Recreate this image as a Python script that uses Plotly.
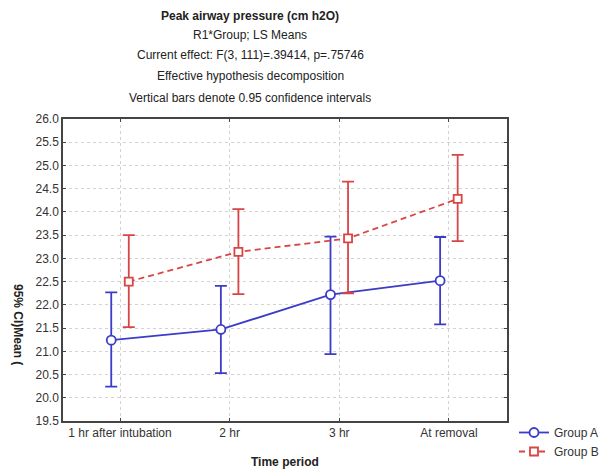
import plotly.graph_objects as go

categories = ["1 hr after intubation", "2 hr", "3 hr", "At removal"]
group_a_mean = [21.24, 21.47, 22.22, 22.52]
group_a_upper = [22.27, 22.41, 23.47, 23.46]
group_a_lower = [20.24, 20.53, 20.94, 21.58]
group_b_mean = [22.50, 23.14, 23.43, 24.28]
group_b_upper = [23.50, 24.06, 24.65, 25.23]
group_b_lower = [21.52, 22.23, 22.25, 23.37]
y_ticks = [19.5 + 0.5 * i for i in range(14)]

title_lines = [
    "<b>Peak airway pressure (cm h2O)</b>",
    "R1*Group; LS Means",
    "Current effect: F(3, 111)=.39414, p=.75746",
    "Effective hypothesis decomposition",
    "Vertical bars denote 0.95 confidence intervals",
]

BLUE = "#3c3cc8"
RED = "#d94545"
FONT = "Liberation Sans, Arial, sans-serif"

offset = 0.08
xa = [i - offset for i in range(len(categories))]
xb = [i + offset for i in range(len(categories))]

fig = go.Figure()
fig.add_trace(go.Scatter(
    x=xa, y=group_a_mean, name="Group A", mode="lines+markers",
    line=dict(color=BLUE, width=1.8),
    marker=dict(symbol="circle", size=9, color="white", line=dict(color=BLUE, width=1.8)),
    error_y=dict(type="data", symmetric=False,
                 array=[u - m for u, m in zip(group_a_upper, group_a_mean)],
                 arrayminus=[m - l for m, l in zip(group_a_mean, group_a_lower)],
                 color=BLUE, thickness=1.8, width=6),
))
fig.add_trace(go.Scatter(
    x=xb, y=group_b_mean, name="Group B", mode="lines+markers",
    line=dict(color=RED, width=1.8, dash="6px,4px"),
    marker=dict(symbol="square", size=8, color="white", line=dict(color=RED, width=1.8)),
    error_y=dict(type="data", symmetric=False,
                 array=[u - m for u, m in zip(group_b_upper, group_b_mean)],
                 arrayminus=[m - l for m, l in zip(group_b_mean, group_b_lower)],
                 color=RED, thickness=1.8, width=6),
))

L, R, T, B = 63, 99, 119, 50
W, H = 606, 471
pw, ph = W - L - R, H - T - B

annotations = []
line_y = [16, 35, 55, 76, 98]
for txt, yp in zip(title_lines, line_y):
    annotations.append(dict(
        text=txt, xref="paper", yref="paper",
        x=(250 - L) / pw, y=(H - B - yp) / ph,
        xanchor="center", yanchor="middle", showarrow=False,
        font=dict(family=FONT, size=12, color="#222"),
    ))
annotations.append(dict(
    text="<b>Time period</b>", xref="paper", yref="paper",
    x=0.5, y=(H - B - 462) / ph, xanchor="center", yanchor="middle",
    showarrow=False, font=dict(family=FONT, size=12, color="#222"),
))
annotations.append(dict(
    text="<b>95% CI)Mean (</b>", xref="paper", yref="paper",
    x=(18 - L) / pw, y=(H - B - 324) / ph, xanchor="center", yanchor="middle",
    textangle=90, showarrow=False, font=dict(family=FONT, size=12, color="#222"),
))

fig.update_layout(
    width=W, height=H,
    margin=dict(l=L, r=R, t=T, b=B, autoexpand=False),
    paper_bgcolor="white", plot_bgcolor="white",
    font=dict(family=FONT, size=12, color="#333"),
    showlegend=True,
    legend=dict(x=(514 - L) / pw, y=(H - B - 418) / ph, xanchor="left", yanchor="top",
                font=dict(family=FONT, size=12, color="#333"),
                tracegroupgap=0, itemwidth=30, bgcolor="rgba(0,0,0,0)"),
    annotations=annotations,
)
fig.update_xaxes(
    range=[-0.52, 3.53], tickvals=list(range(len(categories))), ticktext=categories,
    showgrid=True, gridcolor="#d2d2d2", griddash="dot", gridwidth=1,
    showline=True, linecolor="#444", linewidth=1.5, mirror="ticks",
    ticks="inside", ticklen=3, tickcolor="#444", zeroline=False,
    tickfont=dict(family=FONT, size=12, color="#333"),
)
fig.update_yaxes(
    range=[19.5, 26.0], tickvals=y_ticks, ticktext=[f"{v:.1f}" for v in y_ticks],
    showgrid=True, gridcolor="#d2d2d2", griddash="dot", gridwidth=1,
    showline=True, linecolor="#444", linewidth=1.5, mirror="ticks",
    ticks="inside", ticklen=3, tickcolor="#444", zeroline=False,
    tickfont=dict(family=FONT, size=12, color="#333"),
)

fig.write_html("out.html")
